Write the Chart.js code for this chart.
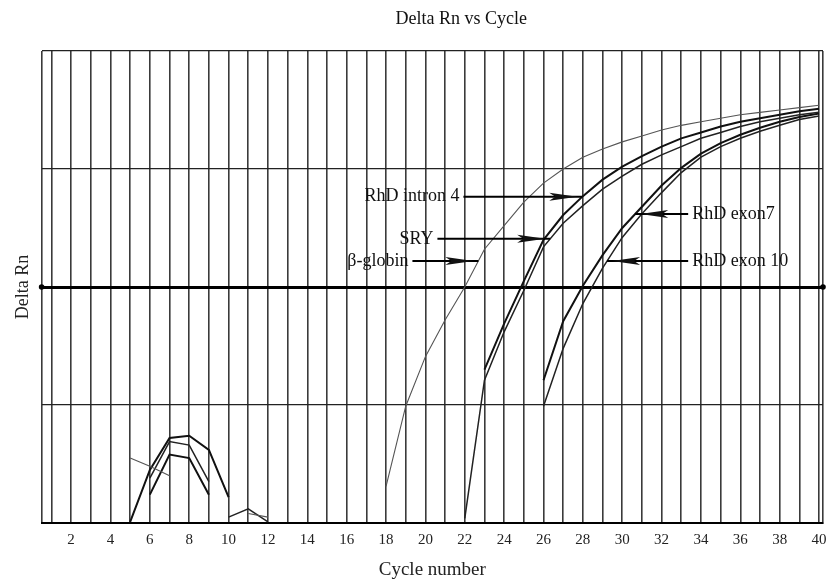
<!DOCTYPE html>
<html>
<head>
<meta charset="utf-8">
<script src="https://cdn.jsdelivr.net/npm/chart.js@4.4.1/dist/chart.umd.min.js"></script>
<style>
    html, body { margin: 0; padding: 0; background: #fff; }
    #wrap { width: 827px; height: 580px; position: relative; }
</style>
</head>
<body>
<div id="wrap"><canvas id="deltaChart"></canvas></div>
<script>
    "use strict";

    // cycle numbers on the x axis
    var cycles = [];
    for (var c = 1; c <= 40; c++) { cycles.push(c); }

    var xTicks = [0.5, 1, 2, 3, 4, 5, 6, 7, 8, 9, 10, 11, 12, 13, 14, 15, 16, 17, 18, 19, 20,
        21, 22, 23, 24, 25, 26, 27, 28, 29, 30, 31, 32, 33, 34, 35, 36, 37, 38, 39, 40, 40.2];
    var yTicks = [0, 1, 2, 3, 4];
    var threshold = 2;

    // Delta Rn per cycle (null = below the visible range)
    var betaGlobin = [null, null, null, null, 0.55, 0.48, 0.40, null, null, null,
        0.08, 0.05, null, null, null, null, null, 0.31, 0.99, 1.41,
        1.72, 2.00, 2.32, 2.52, 2.72, 2.88, 3.00, 3.10, 3.17, 3.23,
        3.28, 3.33, 3.37, 3.40, 3.43, 3.46, 3.48, 3.50, 3.52, 3.54];
    var rhdIntron4 = [null, null, null, null, 0.01, 0.45, 0.72, 0.74, 0.62, 0.22,
        null, null, null, null, null, null, null, null, null, null,
        null, null, 1.30, 1.69, 2.05, 2.40, 2.61, 2.77, 2.91, 3.02,
        3.11, 3.19, 3.26, 3.31, 3.36, 3.40, 3.43, 3.46, 3.49, 3.51];
    var sry = [null, null, null, null, null, 0.38, 0.69, 0.66, 0.35, null,
        null, null, null, null, null, null, null, null, null, null,
        null, 0.04, 1.21, 1.62, 1.97, 2.34, 2.54, 2.69, 2.83, 2.94,
        3.04, 3.12, 3.19, 3.26, 3.31, 3.36, 3.40, 3.43, 3.46, 3.48];
    var rhdExon7 = [null, null, null, null, null, 0.24, 0.58, 0.55, 0.24, null,
        null, null, null, null, null, null, null, null, null, null,
        null, null, null, null, null, 1.21, 1.71, 2.01, 2.27, 2.50,
        2.68, 2.86, 3.01, 3.13, 3.22, 3.29, 3.35, 3.40, 3.44, 3.47];
    var rhdExon10 = [null, null, null, null, null, null, null, null, null, 0.05,
        0.12, 0.01, null, null, null, null, null, null, null, null,
        null, null, null, null, null, 0.99, 1.48, 1.86, 2.16, 2.42,
        2.62, 2.80, 2.97, 3.10, 3.19, 3.26, 3.32, 3.37, 3.42, 3.45];

    // arrow callouts: text, series, cycle of arrow tip, cycle of arrow tail
    var calloutText = ['RhD intron 4', 'SRY', '\u03b2-globin', 'RhD exon7', 'RhD exon 10'];
    var calloutSeries = [rhdIntron4, sry, betaGlobin, rhdExon7, rhdExon10];
    var calloutTip = [27.97, 26.34, 22.69, 30.66, 29.23];
    var calloutTail = [21.93, 20.61, 19.34, 33.35, 33.35];

    var serif = "'Liberation Serif', 'Times New Roman', serif";

    function valueAt(series, x) {
        var i = Math.floor(x) - 1;
        var a = series[i], b = series[i + 1];
        if (a === null || b === null || b === undefined) { return a; }
        return a + (b - a) * (x - Math.floor(x));
    }

    var titlePlugin = {
        id: 'titleText',
        afterDraw: function (chart) {
            var ctx = chart.ctx;
            var area = chart.chartArea;
            ctx.save();
            ctx.fillStyle = '#111';
            ctx.font = '18px ' + serif;
            ctx.textAlign = 'center';
            ctx.textBaseline = 'middle';
            ctx.fillText('Delta Rn vs Cycle', area.left + (area.right - area.left) * 0.537, 19);
            ctx.restore();
        }
    };

    var thresholdPlugin = {
        id: 'thresholdDots',
        afterDatasetsDraw: function (chart) {
            var ctx = chart.ctx;
            var y = chart.scales.y.getPixelForValue(threshold);
            var area = chart.chartArea;
            ctx.save();
            ctx.fillStyle = '#000';
            [area.left, area.right].forEach(function (px) {
                ctx.beginPath();
                ctx.arc(px, y, 2.8, 0, Math.PI * 2);
                ctx.fill();
            });
            ctx.restore();
        }
    };

    var calloutPlugin = {
        id: 'callouts',
        afterDatasetsDraw: function (chart) {
            var ctx = chart.ctx;
            var xs = chart.scales.x, ys = chart.scales.y;
            ctx.save();
            ctx.font = '18px ' + serif;
            ctx.textBaseline = 'middle';
            ctx.fillStyle = '#111';
            ctx.strokeStyle = '#000';
            ctx.lineWidth = 2;
            for (var i = 0; i < calloutText.length; i++) {
                var tipX = xs.getPixelForValue(calloutTip[i]);
                var tailX = xs.getPixelForValue(calloutTail[i]);
                var y = ys.getPixelForValue(valueAt(calloutSeries[i], calloutTip[i]));
                var dir = tipX > tailX ? 1 : -1;

                ctx.beginPath();
                ctx.moveTo(tailX, y);
                ctx.lineTo(tipX, y);
                ctx.stroke();

                // long narrow arrow head, a little short of the tip
                var hx = tipX - dir * 5;
                ctx.beginPath();
                ctx.moveTo(hx, y);
                ctx.lineTo(hx - dir * 28, y - 4);
                ctx.lineTo(hx - dir * 22, y);
                ctx.lineTo(hx - dir * 28, y + 4);
                ctx.closePath();
                ctx.fill();

                ctx.textAlign = dir > 0 ? 'right' : 'left';
                ctx.fillText(calloutText[i], tailX - dir * 4, y);
            }
            ctx.restore();
        }
    };

    function lineSet(label, values, color, width) {
        return {
            label: label,
            data: values,
            borderColor: color,
            borderWidth: width,
            pointRadius: 0,
            tension: 0,
            spanGaps: false,
            fill: false
        };
    }

    var ctx = document.getElementById('deltaChart').getContext('2d');

    new Chart(ctx, {
        type: 'line',
        data: {
            labels: cycles,
            datasets: [
                lineSet('\u03b2-globin', betaGlobin, '#555', 1.1),
                lineSet('RhD intron 4', rhdIntron4, '#111', 2),
                lineSet('SRY', sry, '#222', 1.5),
                lineSet('RhD exon7', rhdExon7, '#111', 2),
                lineSet('RhD exon 10', rhdExon10, '#222', 1.5)
            ]
        },
        options: {
            responsive: true,
            maintainAspectRatio: false,
            animation: false,
            layout: { padding: { left: 8, right: 4, top: 51, bottom: 0 } },
            plugins: {
                legend: { display: false },
                tooltip: { enabled: false },
                title: { display: false }
            },
            scales: {
                x: {
                    type: 'linear',
                    min: 0.5,
                    max: 40.2,
                    afterBuildTicks: function (scale) {
                        scale.ticks = xTicks.map(function (v) { return { value: v }; });
                    },
                    // the "40" label may overhang the plot edge
                    afterFit: function (scale) {
                        scale.paddingRight = 0;
                    },
                    ticks: {
                        autoSkip: false,
                        maxRotation: 0,
                        padding: 8,
                        color: '#222',
                        font: { family: serif, size: 15 },
                        callback: function (v) {
                            return (Number.isInteger(v) && v % 2 === 0) ? String(v) : '';
                        }
                    },
                    grid: {
                        drawTicks: false,
                        color: '#3a3a3a',
                        lineWidth: 1.6
                    },
                    border: { display: true, color: '#000', width: 2 },
                    title: {
                        display: true,
                        text: 'Cycle number',
                        color: '#222',
                        font: { family: serif, size: 19, lineHeight: 1 },
                        padding: { top: 4, bottom: 0 }
                    }
                },
                y: {
                    type: 'linear',
                    min: 0,
                    max: 4,
                    afterBuildTicks: function (scale) {
                        scale.ticks = yTicks.map(function (v) { return { value: v }; });
                    },
                    ticks: { display: false },
                    grid: {
                        drawTicks: false,
                        color: function (c) { return c.tick && c.tick.value === threshold ? '#000' : '#222'; },
                        lineWidth: function (c) { return c.tick && c.tick.value === threshold ? 3 : 1.2; }
                    },
                    border: { display: false },
                    title: {
                        display: true,
                        text: 'Delta Rn',
                        color: '#222',
                        font: { family: serif, size: 18 },
                        padding: { top: 4, bottom: 8 }
                    }
                }
            }
        },
        plugins: [titlePlugin, thresholdPlugin, calloutPlugin]
    });
</script>
</body>
</html>
